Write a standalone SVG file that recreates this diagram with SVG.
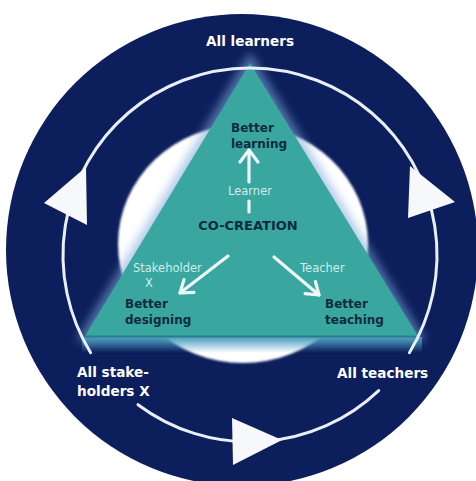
<svg xmlns="http://www.w3.org/2000/svg" width="476" height="481" viewBox="0 0 476 481">
  <defs>
    <filter id="soft" x="-20%" y="-20%" width="140%" height="140%">
      <feGaussianBlur stdDeviation="1.2"/>
    </filter>
    <filter id="glow" x="-30%" y="-30%" width="160%" height="160%">
      <feGaussianBlur stdDeviation="5"/>
    </filter>
    <linearGradient id="baseFade" x1="0" y1="0" x2="0" y2="1">
      <stop offset="0" stop-color="#4a9fc0" stop-opacity="0.95"/>
      <stop offset="1" stop-color="#4a9fc0" stop-opacity="0"/>
    </linearGradient>
    <style>
      .ring { fill: none; stroke: #e9eef8; stroke-width: 3; stroke-linecap: round; }
      .cyc { fill: #f6f8fc; }
      .outer { font-family: "DejaVu Sans", "Liberation Sans", sans-serif; font-weight: bold; fill: #ffffff; font-size: 13.6px; }
      .inner { font-family: "DejaVu Sans", "Liberation Sans", sans-serif; font-weight: bold; fill: #0f2b3d; font-size: 12px; }
      .core { font-family: "DejaVu Sans", "Liberation Sans", sans-serif; font-weight: bold; fill: #0f2b3d; font-size: 13px; }
      .role { font-family: "DejaVu Sans", "Liberation Sans", sans-serif; fill: #cdeeea; font-size: 11.5px; }
      .flow { fill: none; stroke: #eef8f6; stroke-width: 3.2; stroke-linecap: round; stroke-linejoin: round; }
    </style>
  </defs>

  <rect width="476" height="481" fill="#ffffff"/>

  <!-- backdrop: navy disc and white centre -->
  <g id="backdrop">
    <circle cx="242" cy="250" r="236" fill="#0c1e5b"/>
    <ellipse cx="243" cy="244" rx="125" ry="119" fill="#ffffff" filter="url(#soft)"/>
  </g>

  <!-- central triangle -->
  <g id="triangle">
    <polygon points="250,52 76,341 426,341" fill="#7fa8da" opacity="0.6" filter="url(#glow)"/>
    <rect x="82" y="337" width="340" height="16" fill="url(#baseFade)"/>
    <polygon points="250,63 85,336 418,336" fill="#3aa6a0"/>
    <line x1="85" y1="336.5" x2="418" y2="336.5" stroke="#2a7f86" stroke-width="2"/>
  </g>

  <!-- cycle ring, its arrowheads and the arrows inside the triangle -->
  <g id="connectors">
    <path class="ring" d="M 90.6 352.7 A 187 187 0 1 1 409.4 352.7"/>
    <path class="ring" d="M 138 404.7 A 187 187 0 0 0 378.7 390.6"/>
    <polygon class="cyc" points="44,203 86,167 87,225"/>
    <polygon class="cyc" points="410,166 455,202 408,218"/>
    <polygon class="cyc" points="232,418 282,440 233,465"/>

    <line class="flow" x1="249" y1="212" x2="249" y2="201"/>
    <line class="flow" x1="249" y1="182" x2="249" y2="152"/>
    <polyline class="flow" points="240,162 249,150 258,162"/>
    <line class="flow" x1="228" y1="256" x2="180" y2="293"/>
    <polyline class="flow" points="184,279.6 180,293 194,292.4"/>
    <line class="flow" x1="274" y1="257" x2="319" y2="295"/>
    <polyline class="flow" points="315.4,281.5 319,295 305.1,293.7"/>
  </g>

  <g id="node-learning">
    <text class="inner" x="231" y="132">Better</text>
    <text class="inner" x="231" y="148">learning</text>
  </g>
  <g id="node-cocreation">
    <text class="core" x="248" y="230" text-anchor="middle">CO-CREATION</text>
  </g>
  <g id="node-designing">
    <text class="inner" x="125" y="308">Better</text>
    <text class="inner" x="125" y="324">designing</text>
  </g>
  <g id="node-teaching">
    <text class="inner" x="325" y="308">Better</text>
    <text class="inner" x="325" y="324">teaching</text>
  </g>

  <g id="role-labels">
    <text class="role" x="250" y="195" text-anchor="middle">Learner</text>
    <text class="role" x="133" y="272">Stakeholder</text>
    <text class="role" x="145" y="287">X</text>
    <text class="role" x="300" y="272">Teacher</text>
  </g>

  <g id="node-all-learners">
    <text class="outer" x="250" y="46" text-anchor="middle">All learners</text>
  </g>
  <g id="node-all-stakeholders">
    <text class="outer" x="77" y="377">All stake-</text>
    <text class="outer" x="77" y="396">holders X</text>
  </g>
  <g id="node-all-teachers">
    <text class="outer" x="337" y="378">All teachers</text>
  </g>
</svg>
